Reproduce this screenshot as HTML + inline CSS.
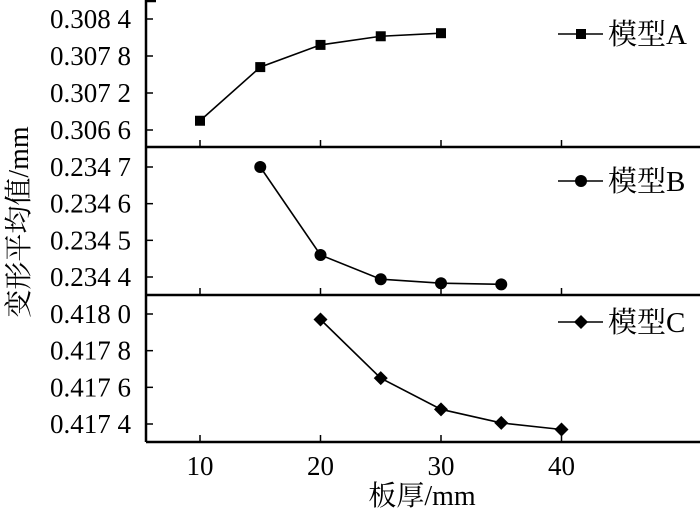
<!DOCTYPE html>
<html><head><meta charset="utf-8"><style>
body{margin:0;background:#fff}
svg{display:block}
text{font-family:"Liberation Serif","Noto Serif CJK SC",serif;fill:#000}
</style></head><body>
<svg id="chart" width="700" height="510" viewBox="0 0 700 510" xmlns="http://www.w3.org/2000/svg"></svg>
<script>
const thickness = [10, 15, 20, 25, 30, 35, 40];
const xTicks = [10, 20, 30, 40];
const modelAX = [10, 15, 20, 25, 30];
const modelAY = [0.30675, 0.30762, 0.30798, 0.30812, 0.30817];
const modelBX = [15, 20, 25, 30, 35];
const modelBY = [0.2347, 0.23446, 0.234394, 0.234383, 0.23438];
const modelCX = [20, 25, 30, 35, 40];
const modelCY = [0.41797, 0.41765, 0.41748, 0.417406, 0.41737];
const ticksA = [0.3084, 0.3078, 0.3072, 0.3066];
const ticksB = [0.2347, 0.2346, 0.2345, 0.2344];
const ticksC = [0.4180, 0.4178, 0.4176, 0.4174];
const labelsA = ["0.308 4", "0.307 8", "0.307 2", "0.306 6"];
const labelsB = ["0.234 7", "0.234 6", "0.234 5", "0.234 4"];
const labelsC = ["0.418 0", "0.417 8", "0.417 6", "0.417 4"];
const legendNames = ["模型A", "模型B", "模型C"];

const NS = "http://www.w3.org/2000/svg";
const svg = document.getElementById("chart");
function el(tag, attrs, parent) {
  const e = document.createElementNS(NS, tag);
  for (const k in attrs) e.setAttribute(k, attrs[k]);
  (parent || svg).appendChild(e);
  return e;
}
const L = 146, R = 700;
const xScale = v => 200 + (v - 10) * 12.05;

const panels = [
  {xs: modelAX, ys: modelAY, ticks: ticksA, labels: labelsA, top: 0, bottom: 147, t0: 0.3084, p0: 19, t1: 0.3066, p1: 130, marker: "square", legY: 34, name: "panel-a"},
  {xs: modelBX, ys: modelBY, ticks: ticksB, labels: labelsB, top: 147, bottom: 295, t0: 0.2347, p0: 167, t1: 0.2344, p1: 277, marker: "circle", legY: 181, name: "panel-b"},
  {xs: modelCX, ys: modelCY, ticks: ticksC, labels: labelsC, top: 295, bottom: 442, t0: 0.4180, p0: 314, t1: 0.4174, p1: 424, marker: "diamond", legY: 322, name: "panel-c"}
];

function drawMarker(type, x, y, g) {
  let m;
  if (type === "square") m = el("rect", {x: x - 5, y: y - 5, width: 10, height: 10, fill: "#000"}, g);
  else if (type === "circle") m = el("circle", {cx: x, cy: y, r: 6, fill: "#000"}, g);
  else m = el("polygon", {points: `${x},${y-7} ${x+7},${y} ${x},${y+7} ${x-7},${y}`, fill: "#000"}, g);
  return m;
}

panels.forEach((p, pi) => {
  const yScale = v => p.p0 + (v - p.t0) / (p.t1 - p.t0) * (p.p1 - p.p0);
  const g = el("g", {});
  
  
  const bl = el("line", {x1: L, y1: p.bottom, x2: R, y2: p.bottom, stroke: "#000", "stroke-width": 2.5}, g);
  
  
  const ll = el("line", {x1: L, y1: p.top, x2: L, y2: p.bottom, stroke: "#000", "stroke-width": 2.5}, g);
  
  
  p.ticks.forEach((t, i) => {
    const y = yScale(t);
    el("line", {x1: L, y1: y, x2: L + 7, y2: y, stroke: "#000", "stroke-width": 1.5}, g);
    const tx = el("text", {x: 131, y: y + 9, "text-anchor": "end", "font-size": 27}, g);
    tx.textContent = p.labels[i];
    
    
  });
  xTicks.forEach(v => {
    el("line", {x1: xScale(v), y1: p.bottom, x2: xScale(v), y2: p.bottom - 7, stroke: "#000", "stroke-width": 1.5}, g);
  });
  const pts = p.xs.map((x, i) => xScale(x) + "," + yScale(p.ys[i])).join(" ");
  const line = el("polyline", {points: pts, fill: "none", stroke: "#000", "stroke-width": 1.6}, g);
  
  
  p.xs.forEach((x, i) => {
    const m = drawMarker(p.marker, xScale(x), yScale(p.ys[i]), g);
    
    
  });
  const lg = el("g", {}, g);
  
  
  el("line", {x1: 558, y1: p.legY, x2: 603, y2: p.legY, stroke: "#000", "stroke-width": 1.6}, lg);
  drawMarker(p.marker, 581, p.legY, lg);
  const lt = el("text", {x: 608, y: p.legY + 10, "font-size": 29}, lg);
  lt.textContent = legendNames[pi];
});
el("line", {x1: L, y1: 1, x2: L + 10, y2: 1, stroke: "#000", "stroke-width": 2.5});
xTicks.forEach(v => {
  const t = el("text", {x: xScale(v), y: 475, "text-anchor": "middle", "font-size": 27});
  t.textContent = v;
  
  
});
const xt = el("text", {x: 422, y: 505, "text-anchor": "middle", "font-size": 28});
xt.textContent = "板厚/mm";


const yt = el("text", {x: 0, y: 0, "text-anchor": "middle", "font-size": 28, transform: "translate(28,222) rotate(-90)"});
yt.textContent = "变形平均值/mm";


</script>
</body></html>
